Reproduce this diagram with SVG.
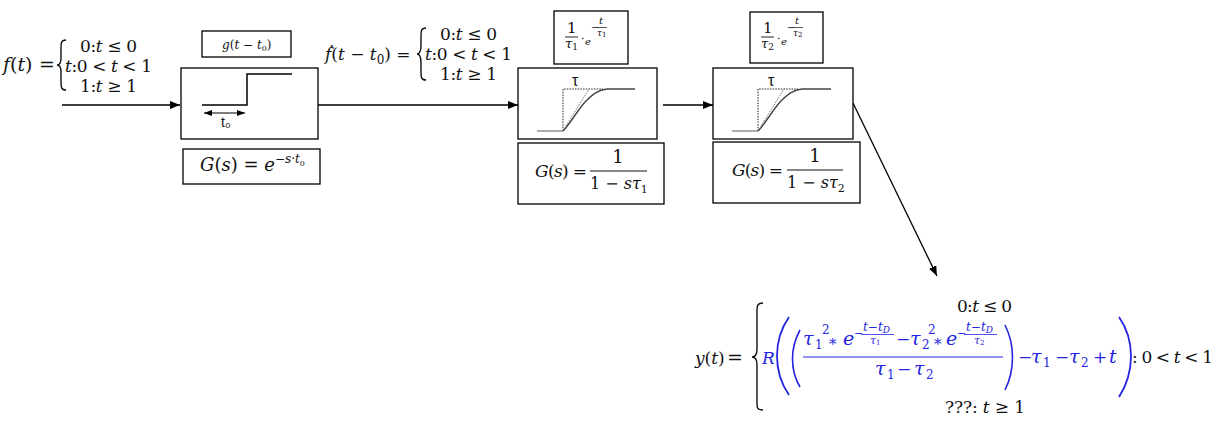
<svg xmlns="http://www.w3.org/2000/svg" width="1220" height="427" viewBox="0 0 1220 427" font-size="17">
<style>
.m{font-family:"DejaVu Serif","Liberation Serif",serif;fill:#111}
.i{font-style:italic}
.b{fill:#2323e0}
.bs{stroke:#2323e0;fill:none}
.box{fill:#fff;stroke:#000;stroke-width:1.3}
.brace{fill:none;stroke:#111;stroke-width:1.4}
.sans{font-family:"Liberation Sans","DejaVu Sans",sans-serif;fill:#111}
.cv{fill:none;stroke:#444;stroke-width:1.4}
.dot{fill:none;stroke:#222;stroke-width:1;stroke-dasharray:1.5 1.2}
.con{fill:none;stroke:#000;stroke-width:1.3}
</style>
<defs>
<marker id="ah" markerUnits="userSpaceOnUse" markerWidth="11" markerHeight="9" refX="10" refY="4" orient="auto">
<path d="M0,0 L10,4 L0,8 z" fill="#000"/>
</marker>
<marker id="sh" markerUnits="userSpaceOnUse" markerWidth="9" markerHeight="7" refX="8" refY="3" orient="auto-start-reverse">
<path d="M0,0 L8,3 L0,6 z" fill="#000"/>
</marker>
</defs>
<rect width="1220" height="427" fill="#fff"/>

<g id="connectors">
<line class="con" x1="62" y1="105" x2="180" y2="105" marker-end="url(#ah)"/>
<line class="con" x1="318" y1="105" x2="518" y2="105" marker-end="url(#ah)"/>
<line class="con" x1="663" y1="105" x2="713" y2="105" marker-end="url(#ah)"/>
<line class="con" x1="853" y1="103" x2="937" y2="276" marker-end="url(#ah)"/>
</g>

<g id="input">
<text class="m" x="3" y="71" font-size="19"><tspan class="i">f</tspan>(<tspan class="i">t</tspan>)</text>
<text class="m" x="39" y="71" font-size="19">=</text>
<path class="brace" d="M66,40 C61,40 61,43 61,48 L61,58 C61,62 60,65 57,65 C60,65 61,68 61,72 L61,82 C61,87 61,90 66,90"/>
<text class="m" x="80" y="52" textLength="57">0:<tspan class="i">t</tspan> ≤ 0</text>
<text class="m" x="65" y="72" textLength="87"><tspan class="i">t</tspan>:0 &lt; <tspan class="i">t</tspan> &lt; 1</text>
<text class="m" x="80" y="92" textLength="57">1:<tspan class="i">t</tspan> ≥ 1</text>
</g>

<g id="delay-label">
<rect class="box" x="202" y="31" width="89" height="26"/>
<text class="m" x="222" y="49" font-size="12"><tspan class="i">g</tspan>(<tspan class="i">t</tspan> − <tspan class="i">t</tspan><tspan font-size="8" dy="2">0</tspan><tspan dy="-2">)</tspan></text>
</g>

<g id="delay">
<rect class="box" x="181" y="68" width="137" height="71"/>
<path d="M202,105 L247,105 L247,74 L292,74" fill="none" stroke="#000" stroke-width="1.5"/>
<line x1="204" y1="113" x2="245" y2="113" stroke="#000" stroke-width="1.2" marker-start="url(#sh)" marker-end="url(#sh)"/>
<text class="sans" x="221" y="127" font-size="14">t₀</text>
</g>

<g id="delay-tf">
<rect class="box" x="183" y="149" width="137" height="35"/>
<text class="m" x="200" y="171" font-size="18"><tspan class="i">G</tspan>(<tspan class="i">s</tspan>) = <tspan class="i">e</tspan><tspan font-size="12" dy="-8">−<tspan class="i">s</tspan>·<tspan class="i">t</tspan></tspan><tspan font-size="8" dy="3">0</tspan></text>
</g>

<g id="delayed-input">
<text class="m" x="325" y="60"><tspan class="i">ḟ</tspan>(<tspan class="i">t</tspan> − <tspan class="i">t</tspan><tspan font-size="12" dy="4">0</tspan><tspan dy="-4">) =</tspan></text>
<path class="brace" d="M426,28 C421,28 421,31 421,36 L421,45 C421,50 420,54 417,54 C420,54 421,58 421,63 L421,72 C421,77 421,80 426,80"/>
<text class="m" x="440" y="40" textLength="57">0:<tspan class="i">t</tspan> ≤ 0</text>
<text class="m" x="425" y="60" textLength="87"><tspan class="i">t</tspan>:0 &lt; <tspan class="i">t</tspan> &lt; 1</text>
<text class="m" x="440" y="80" textLength="57">1:<tspan class="i">t</tspan> ≥ 1</text>
</g>

<g id="pt1-1-label">
<rect class="box" x="554" y="11" width="74" height="53"/>
<text class="m" x="567" y="33" font-size="15">1</text>
<line x1="565" y1="37" x2="578" y2="37" stroke="#111" stroke-width="0.9"/>
<text class="m" x="565" y="48" font-size="13"><tspan class="i">τ</tspan><tspan font-size="9" dy="2">1</tspan></text>
<text class="m" x="581" y="43" font-size="11">·</text>
<text class="m i" x="585" y="45" font-size="10">e</text>
<text class="m" x="591" y="31" font-size="10">−</text>
<text class="m i" x="599" y="24" font-size="10">t</text>
<line x1="597" y1="27.5" x2="607" y2="27.5" stroke="#111" stroke-width="0.7"/>
<text class="m" x="597" y="36" font-size="9"><tspan class="i">τ</tspan><tspan font-size="7" dy="1">1</tspan></text>
</g>

<g id="pt1-1">
<rect class="box" x="518" y="68" width="139" height="71"/>
<text class="sans" x="572" y="86" font-size="16">τ</text>
<path class="dot" d="M563,131 L563,89 L603,89"/>
<path class="dot" style="stroke:#777" d="M566,126 L589,89"/>
<path class="cv" style="stroke:#888" d="M537,131 L563,131"/>
<path class="cv" d="M563,131 C570,124 577,111 585,102 C593,94 598,90 607,89 L635,89"/>
</g>

<g id="pt1-1-tf">
<rect class="box" x="518" y="143" width="146" height="61"/>
<text class="m" x="535" y="177" font-size="17" textLength="52"><tspan class="i">G</tspan>(<tspan class="i">s</tspan>) =</text>
<text class="m" x="618" y="163" font-size="18" text-anchor="middle">1</text>
<line x1="590" y1="171" x2="647" y2="171" stroke="#111" stroke-width="1"/>
<text class="m" x="590" y="189" font-size="16">1 − <tspan class="i">sτ</tspan><tspan font-size="11" dy="4">1</tspan></text>
</g>

<g id="pt1-2-label">
<rect class="box" x="750" y="12" width="73" height="51"/>
<text class="m" x="763" y="33" font-size="15">1</text>
<line x1="761" y1="37" x2="774" y2="37" stroke="#111" stroke-width="0.9"/>
<text class="m" x="761" y="48" font-size="13"><tspan class="i">τ</tspan><tspan font-size="9" dy="2">2</tspan></text>
<text class="m" x="777" y="43" font-size="11">·</text>
<text class="m i" x="781" y="45" font-size="10">e</text>
<text class="m" x="787" y="31" font-size="10">−</text>
<text class="m i" x="795" y="24" font-size="10">t</text>
<line x1="793" y1="27.5" x2="803" y2="27.5" stroke="#111" stroke-width="0.7"/>
<text class="m" x="793" y="36" font-size="9"><tspan class="i">τ</tspan><tspan font-size="7" dy="1">2</tspan></text>
</g>

<g id="pt1-2">
<rect class="box" x="713" y="68" width="140" height="71"/>
<text class="sans" x="768" y="86" font-size="16">τ</text>
<path class="dot" d="M758,131 L758,89 L798,89"/>
<path class="dot" style="stroke:#777" d="M761,126 L784,89"/>
<path class="cv" style="stroke:#888" d="M732,131 L758,131"/>
<path class="cv" d="M758,131 C765,124 772,111 780,102 C788,94 793,90 802,89 L831,89"/>
</g>

<g id="pt1-2-tf">
<rect class="box" x="713" y="142" width="147" height="61"/>
<text class="m" x="732" y="176" font-size="17" textLength="51"><tspan class="i">G</tspan>(<tspan class="i">s</tspan>) =</text>
<text class="m" x="815" y="162" font-size="18" text-anchor="middle">1</text>
<line x1="787" y1="170" x2="843" y2="170" stroke="#111" stroke-width="1"/>
<text class="m" x="787" y="188" font-size="16">1 − <tspan class="i">sτ</tspan><tspan font-size="11" dy="4">2</tspan></text>
</g>

<g id="output">
<text class="m" x="695" y="364" font-size="17"><tspan class="i">y</tspan>(<tspan class="i">t</tspan>)</text>
<text class="m" x="727" y="364" font-size="19">=</text>
<path class="brace" d="M763,303 C757,303 757,306 757,312 L757,349 C757,354 756,357 752,357 C756,357 757,360 757,365 L757,402 C757,408 757,410 763,410"/>
<text class="m" x="957" y="312" textLength="55">0:<tspan class="i">t</tspan> ≤ 0</text>
<text class="m i b" x="762" y="364" font-size="17">R</text>
<path class="bs" stroke-width="1.8" d="M789,317 C773,340 773,372 789,395"/>
<path class="bs" stroke-width="1.6" d="M800,330 C790,348 790,370 800,387"/>
<text class="m i b" x="803" y="345" font-size="19">τ</text>
<text class="m b" x="815" y="349" font-size="12">1</text>
<text class="m b" x="822" y="334" font-size="12">2</text>
<text class="m b" x="829" y="349" font-size="15">*</text>
<text class="m i b" x="843" y="345" font-size="19">e</text>
<text class="m b" x="854" y="337" font-size="11">−</text>
<text class="m b i" x="863" y="331" font-size="12">t−t<tspan font-size="9" dy="2">D</tspan></text>
<line class="bs" stroke-width="0.8" x1="861" y1="334.5" x2="894" y2="334.5"/>
<text class="m b" x="870" y="344" font-size="11"><tspan class="i">τ</tspan><tspan font-size="7" dy="1">1</tspan></text>
<text class="m b" x="896" y="345" font-size="17">−</text>
<text class="m i b" x="910" y="345" font-size="19">τ</text>
<text class="m b" x="922" y="349" font-size="12">2</text>
<text class="m b" x="928" y="334" font-size="12">2</text>
<text class="m b" x="934" y="349" font-size="15">*</text>
<text class="m i b" x="946" y="345" font-size="19">e</text>
<text class="m b" x="957" y="337" font-size="11">−</text>
<text class="m b i" x="966" y="331" font-size="12">t−t<tspan font-size="9" dy="2">D</tspan></text>
<line class="bs" stroke-width="0.8" x1="964" y1="334.5" x2="997" y2="334.5"/>
<text class="m b" x="974" y="344" font-size="11"><tspan class="i">τ</tspan><tspan font-size="7" dy="1">2</tspan></text>
<line class="bs" stroke-width="1" x1="803" y1="357" x2="1003" y2="357"/>
<text class="m i b" x="875" y="375" font-size="19">τ</text>
<text class="m b" x="887" y="379" font-size="12">1</text>
<text class="m b" x="897" y="375" font-size="17">−</text>
<text class="m i b" x="914" y="375" font-size="19">τ</text>
<text class="m b" x="926" y="379" font-size="12">2</text>
<path class="bs" stroke-width="1.6" d="M1005,325 C1015,345 1015,370 1005,390"/>
<text class="m b" x="1018" y="363" font-size="17">−</text>
<text class="m i b" x="1031" y="363" font-size="19">τ</text>
<text class="m b" x="1043" y="367" font-size="12">1</text>
<text class="m b" x="1055" y="363" font-size="17">−</text>
<text class="m i b" x="1069" y="363" font-size="19">τ</text>
<text class="m b" x="1081" y="367" font-size="12">2</text>
<text class="m b" x="1093" y="363" font-size="17">+</text>
<text class="m i b" x="1109" y="363" font-size="19">t</text>
<path class="bs" stroke-width="1.8" d="M1119,317 C1135,340 1135,372 1119,397"/>
<text class="m" x="1132" y="363" textLength="81">: 0 &lt; <tspan class="i">t</tspan> &lt; 1</text>
<text class="m" x="945" y="413" textLength="80">???: <tspan class="i">t</tspan> ≥ 1</text>
</g>
</svg>
